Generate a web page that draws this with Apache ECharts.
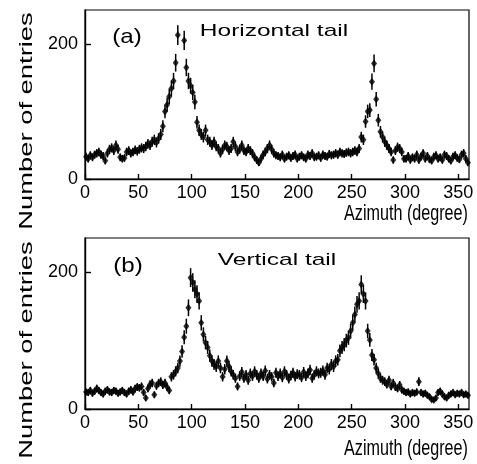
<!DOCTYPE html>
<html>
<head>
<meta charset="utf-8">
<script src="https://cdn.jsdelivr.net/npm/echarts@6/dist/echarts.min.js"></script>
<style>
html,body{margin:0;padding:0;background:#fff;}
#chart{width:477px;height:464px;}
</style>
</head>
<body>
<div id="chart"></div>
<script>
// Azimuth binning (degrees) and axis ticks
const binWidth = 2;
const xTicks = [0, 50, 100, 150, 200, 250, 300, 350];
const yTicks = [0, 200];

// (a) Horizontal tail: entries per 2-degree bin (centres 1,3,...,359); null = no point drawn
const countsA = [
  33,30,35,32,36,38,40,36,34,27,
  38,44,46,42,50,44,32,30,31,40,
  42,38,40,43,41,44,46,45,48,52,
  50,55,58,54,60,66,78,100,110,122,
  134,145,172,213,null,null,205,165,145,138,
  128,114,84,72,66,62,72,58,55,50,
  55,48,45,38,44,50,48,42,45,55,
  48,40,44,50,42,40,45,42,38,32,
  28,24,30,36,40,45,50,44,38,35,
  34,32,36,30,33,35,31,34,36,30,
  33,35,32,30,36,34,38,32,33,35,
  31,36,34,33,37,35,36,38,36,40,
  38,37,39,40,38,40,42,40,45,62,
  58,85,100,102,144,171,118,87,70,62,
  55,50,45,40,28,42,47,45,40,30,
  30,34,28,32,30,36,28,33,38,30,
  34,29,27,33,35,30,32,28,36,34,
  30,27,33,35,31,29,36,38,30,24
];

// (b) Vertical tail: entries per 2-degree bin
const countsB = [
  25,24,27,23,26,30,27,24,22,26,
  28,25,24,27,26,23,25,27,24,22,
  26,28,25,30,32,31,33,24,16,30,
  36,38,21,34,38,40,35,38,32,27,
  47,50,55,60,70,84,105,121,148,192,
  185,175,168,158,126,109,97,90,78,70,
  65,62,70,60,47,58,70,62,55,50,
  45,33,48,54,45,50,42,52,48,55,
  50,45,52,48,56,44,50,47,38,53,
  48,52,46,55,50,44,49,53,47,51,
  50,46,54,48,52,57,45,50,55,52,
  53,56,50,60,58,65,62,70,72,85,
  90,94,100,104,114,126,138,153,158,182,
  168,158,114,101,79,72,60,52,45,42,
  40,36,42,33,38,32,30,35,28,26,
  24,25,22,24,23,25,40,24,22,23,
  20,18,14,13,16,24,26,22,18,16,
  20,22,24,21,23,22,24,21,22,20
];

const FONT = 'Liberation Sans';

function toPoints(counts) {
  const out = [];
  counts.forEach((v, i) => {
    if (v === null) return;
    out.push([binWidth * i + binWidth / 2, v, Math.sqrt(v)]); // Poisson error
  });
  return out;
}

function xAxisCfg(gi) {
  return {
    gridIndex: gi, type: 'value', min: 0, max: 360, interval: 50,
    axisLine: {show: true, onZero: false, lineStyle: {color: '#000', width: 1.4}},
    axisTick: {show: true, inside: true, length: 5, lineStyle: {color: '#000', width: 1.4}},
    axisLabel: {color: '#000', fontFamily: FONT, fontSize: 18, margin: 5, showMaxLabel: false,
      formatter: v => xTicks.indexOf(v) >= 0 ? String(v) : ''},
    splitLine: {show: false}
  };
}
function yAxisCfg(gi) {
  return {
    gridIndex: gi, type: 'value', min: 0, max: 250, interval: 200,
    axisLine: {show: true, onZero: false, lineStyle: {color: '#000', width: 1.4}},
    axisTick: {show: true, inside: true, length: 6, lineStyle: {color: '#000', width: 1.4}},
    axisLabel: {color: '#000', fontFamily: FONT, fontSize: 18, margin: 7, showMaxLabel: false,
      formatter: v => yTicks.indexOf(v) >= 0 ? String(v) : ''},
    splitLine: {show: false}
  };
}

function errSeries(gi, counts) {
  return {
    type: 'custom', xAxisIndex: gi, yAxisIndex: gi,
    data: toPoints(counts),
    encode: {x: 0, y: 1},
    renderItem: function (params, api) {
      const x = api.value(0), y = api.value(1), e = api.value(2);
      const p1 = api.coord([x, y + e]);
      const p2 = api.coord([x, y - e]);
      return {type: 'line', shape: {x1: p1[0], y1: p1[1], x2: p2[0], y2: p2[1]},
        style: {stroke: '#000', lineWidth: 1.5}};
    },
    silent: true, z: 2
  };
}
function ptSeries(gi, counts) {
  return {
    type: 'scatter', xAxisIndex: gi, yAxisIndex: gi,
    data: toPoints(counts).map(p => [p[0], p[1]]),
    symbol: 'diamond', symbolSize: [6, 8],
    itemStyle: {color: '#000'}, silent: true, z: 3
  };
}

function txt(text, x, y, size, sx, sy, rot) {
  return {
    type: 'text', x: x, y: y, rotation: rot || 0, scaleX: sx, scaleY: sy,
    style: {text: text, fill: '#000', font: size + 'px "' + FONT + '"',
      textAlign: 'center', textVerticalAlign: 'middle'},
    silent: true
  };
}

const chart = echarts.init(document.getElementById('chart'), null, {renderer: 'canvas'});
chart.setOption({
  animation: false,
  backgroundColor: '#fff',
  grid: [
    {left: 85, right: 8, top: 10, height: 169, show: true, borderColor: '#000', borderWidth: 1.2, backgroundColor: 'transparent'},
    {left: 85, right: 8, top: 238, height: 171, show: true, borderColor: '#000', borderWidth: 1.2, backgroundColor: 'transparent'}
  ],
  xAxis: [xAxisCfg(0), xAxisCfg(1)],
  yAxis: [yAxisCfg(0), yAxisCfg(1)],
  series: [errSeries(0, countsA), ptSeries(0, countsA), errSeries(1, countsB), ptSeries(1, countsB)],
  graphic: [
    txt('(a)', 127, 37, 21, 1.15, 1),
    txt('Horizontal tail', 274, 31, 17, 1.44, 1),
    txt('(b)', 128, 266, 21, 1.15, 1),
    txt('Vertical tail', 277, 260, 17, 1.44, 1),
    txt('Azimuth (degree)', 406, 214, 17, 0.95, 1.3),
    txt('Azimuth (degree)', 406, 449, 17, 0.95, 1.3),
    txt('Number of entries', 27, 121, 18, 1.52, 1, Math.PI / 2),
    txt('Number of entries', 27, 350, 18, 1.52, 1, Math.PI / 2)
  ]
});
</script>
</body>
</html>
